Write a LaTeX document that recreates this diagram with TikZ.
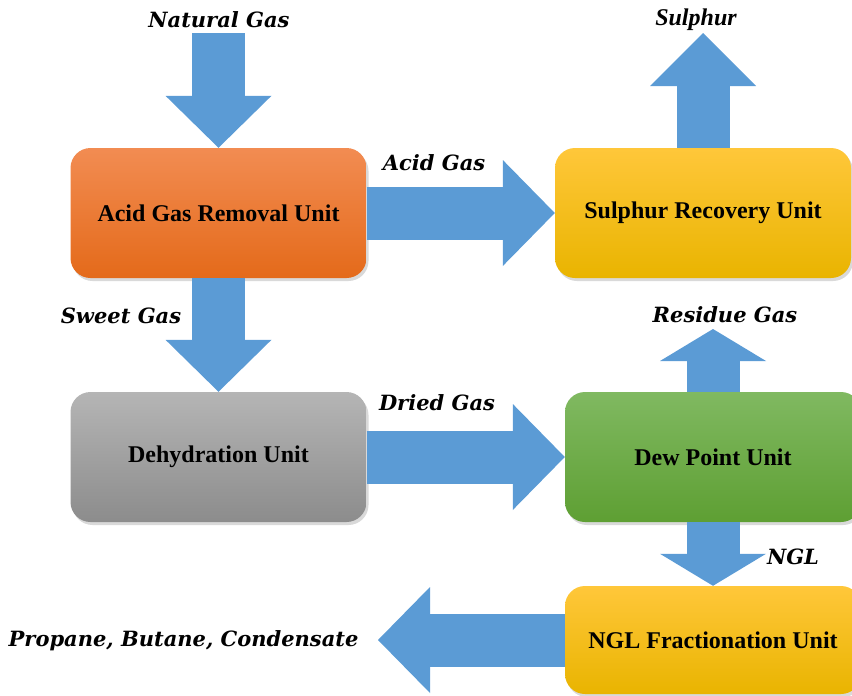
\documentclass[tikz,border=0pt]{standalone}
\usepackage{fontspec}
\setmainfont{Liberation Serif}
\newfontfamily\labelfont{DejaVu Serif}
\usetikzlibrary{arrows.meta, shadows}
\definecolor{flowblue}{HTML}{5B9BD5}
\definecolor{orangetop}{HTML}{F28C52}
\definecolor{orangebot}{HTML}{E46A1A}
\definecolor{goldtop}{HTML}{FFC73A}
\definecolor{goldbot}{HTML}{E9B400}
\definecolor{greytop}{HTML}{B5B5B5}
\definecolor{greybot}{HTML}{8C8C8C}
\definecolor{greentop}{HTML}{80B961}
\definecolor{greenbot}{HTML}{5E9F33}

\begin{document}
\begin{tikzpicture}[x=1pt,y=-1pt,
      unit/.style={
        minimum width=296pt,
        minimum height=130pt,
        inner sep=0pt,
        rounded corners=20pt,
        font=\fontsize{24}{28}\selectfont\bfseries,
        drop shadow={shadow xshift=2pt,shadow yshift=-3pt,opacity=0.3},
      },
      flow/.style={
        line width=53pt,
        draw=flowblue,
        -{Triangle[length=#1,width=106pt,line width=0pt]},
      },
      flow/.default=52pt,
      stream/.style={font=\labelfont\fontsize{21}{25}\selectfont\bfseries\itshape},
      ]
      \useasboundingbox (0,0) rectangle (852,696);
      \clip (0,0) rectangle (852,696);
      \node[unit,top color=orangetop,bottom color=orangebot] (agru) at (218.5,213) {Acid Gas Removal Unit};
      \node[unit,top color=goldtop,bottom color=goldbot] (sru) at (703,213) {Sulphur Recovery Unit};
      \node[unit,top color=greytop,bottom color=greybot] (dehy) at (218.5,457) {Dehydration Unit};
      \node[unit,top color=greentop,bottom color=greenbot] (dew) at (713,457) {Dew Point Unit};
      \node[unit,minimum height=108pt,top color=goldtop,bottom color=goldbot] (frac) at (713,640) {NGL Fractionation Unit};
      \coordinate (feed) at (218.5,33);
      \coordinate (sulphur) at (703,33);
      \coordinate (residue) at (713,329);
      \coordinate (products) at (378,640);
      \draw[flow] (feed) -- (agru.north);
      \draw[flow] (agru.east) -- (sru.west);
      \draw[flow=53pt] (sru.north) -- (sulphur);
      \draw[flow] (agru.south) -- (dehy.north);
      \draw[flow] (dehy.east) -- (dew.west);
      \draw[flow=32pt] (dew.north) -- (residue);
      \draw[flow=32pt] (dew.south) -- (frac.north);
      \draw[flow] (frac.west) -- (products);
      \node[stream] (ngas) at (219,20) {Natural Gas};
      \node[stream] (agas) at (434,163) {Acid Gas};
      \node[font=\fontsize{24}{28}\selectfont\bfseries\itshape] (sulp) at (696,20) {Sulphur};
      \node[stream] (sgas) at (121,316) {Sweet Gas};
      \node[stream] (dgas) at (437,403) {Dried Gas};
      \node[stream] (rgas) at (725,315) {Residue Gas};
      \node[stream] (ngl) at (793,557) {NGL};
      \node[stream,anchor=east] (prod) at (362,641) {Propane, Butane, Condensate};
    \end{tikzpicture}
\end{document}
